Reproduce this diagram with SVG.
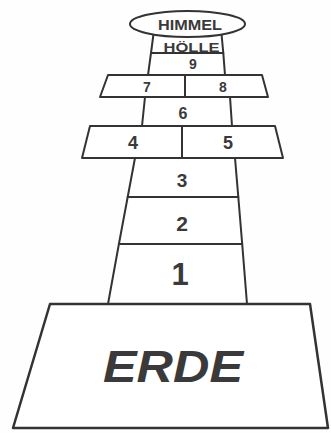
<svg xmlns="http://www.w3.org/2000/svg" width="331" height="433" viewBox="0 0 331 433">
<style>
.cell{fill:#ffffff;stroke:#333333;stroke-width:2;stroke-linejoin:round}
.erde{fill:#ffffff;stroke:#333333;stroke-width:2.5;stroke-linejoin:round}
.t{font-family:"Liberation Sans",Arial,sans-serif;font-weight:bold;fill:#3a3a3a;text-anchor:middle}
</style>
<rect width="331" height="433" fill="#fefefe"/>
<g id="hoelle"><polygon class="cell" points="153.5,34 221.5,34 223.3,53 151,53"/><text class="t" x="191.5" y="51.5" font-size="12" textLength="56" lengthAdjust="spacingAndGlyphs">HÖLLE</text></g>
<g id="himmel"><ellipse class="cell" cx="187.5" cy="24" rx="57.5" ry="13"/><text class="t" x="190" y="30" font-size="14" textLength="64" lengthAdjust="spacingAndGlyphs">HIMMEL</text></g>
<g id="cell9"><polygon class="cell" points="151,53 223.3,53 225,75 148,75"/><text class="t" x="193" y="69" font-size="14">9</text></g>
<g id="cell7"><polygon class="cell" points="108,75 185,75 185,97 100,97"/><text class="t" x="147" y="92" font-size="14">7</text></g>
<g id="cell8"><polygon class="cell" points="185,75 262,75 268,97 185,97"/><text class="t" x="223" y="92" font-size="14">8</text></g>
<g id="cell6"><polygon class="cell" points="145,97 230,97 232,126 142,126"/><text class="t" x="183" y="119" font-size="16">6</text></g>
<g id="cell4"><polygon class="cell" points="90,126 182,126 182,158 82,158"/><text class="t" x="133" y="148.5" font-size="18">4</text></g>
<g id="cell5"><polygon class="cell" points="182,126 275,126 283,158 182,158"/><text class="t" x="228" y="148.5" font-size="18">5</text></g>
<g id="cell3"><polygon class="cell" points="135,158 235,158 238.3,197 127.7,197"/><text class="t" x="182" y="187" font-size="19">3</text></g>
<g id="cell2"><polygon class="cell" points="127.7,197 238.3,197 242.2,244 118.9,244"/><text class="t" x="182" y="230.5" font-size="21">2</text></g>
<g id="cell1"><polygon class="cell" points="118.9,244 242.2,244 247,304 108,304"/><text class="t" x="180" y="284.5" font-size="31">1</text></g>
<g id="erde"><polygon class="erde" points="50,304 310,304 328,428 13,428"/><text class="t" x="173" y="382" font-size="44" font-style="italic" textLength="140" lengthAdjust="spacingAndGlyphs">ERDE</text></g>
<g id="connectors"></g>
</svg>
